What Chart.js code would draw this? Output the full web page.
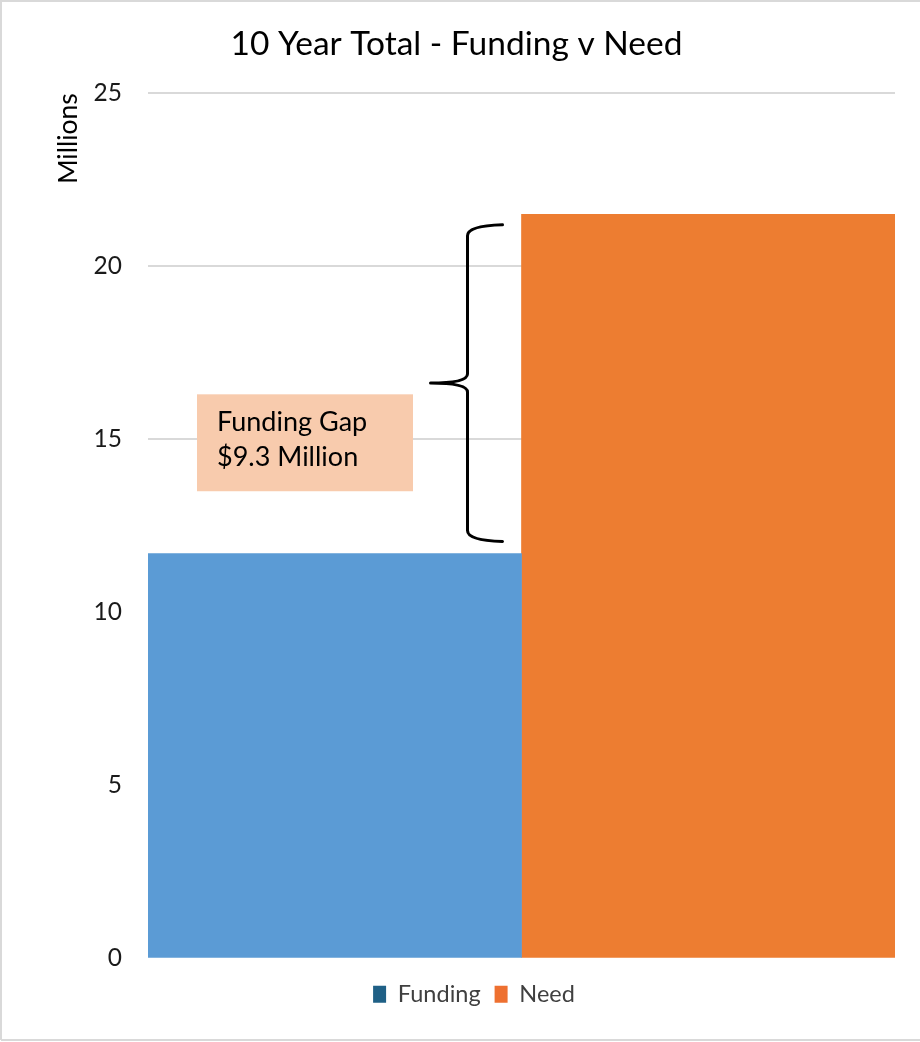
<!DOCTYPE html>
<html>
<head>
<meta charset="utf-8">
<script src="https://cdn.jsdelivr.net/npm/chart.js@4"></script>
<style>
  html, body { margin: 0; padding: 0; background: #ffffff; }
  canvas { display: block; }
</style>
</head>
<body>
<canvas id="c" width="920" height="1042"></canvas>
<script>
// ---- data ----
const categories = [''];
const seriesNames = ['Funding', 'Need'];
const fundingValues = [11.7];
const needValues = [21.5];
const yMin = 0;
const yMax = 25;
const yStep = 5;
const titleText = '10 Year Total - Funding v Need';
const yAxisLabel = 'Millions';
const gapLabel = ['Funding Gap', '$9.3 Million'];
const braceRange = [12.05, 21.2];   // brace ends, in data units
const gapBoxRange = [13.5, 16.3];   // text box vertical extent, in data units

const FONT = 'Lato';

const framePlugin = {
  id: 'frame',
  afterLayout(chart) {
    // small horizontal nudges of the title and legend blocks
    if (chart.titleBlock) { chart.titleBlock.left -= 5; chart.titleBlock.right -= 5; }
    if (chart.legend) { chart.legend.left += 12.5; chart.legend.right += 12.5; }
  },
  beforeDraw(chart) {
    const ctx = chart.ctx;
    ctx.save();
    ctx.fillStyle = '#ffffff';
    ctx.fillRect(0, 0, chart.width, chart.height);
    ctx.strokeStyle = '#d9d9d9';
    ctx.lineWidth = 2;
    ctx.beginPath();
    ctx.moveTo(1, chart.height - 2);
    ctx.lineTo(1, 1);
    ctx.lineTo(chart.width, 1);
    ctx.moveTo(1, chart.height - 2);
    ctx.lineTo(chart.width, chart.height - 2);
    ctx.stroke();
    ctx.restore();
  }
};

const gapPlugin = {
  id: 'gapAnnotation',
  afterDatasetsDraw(chart) {
    const {ctx, chartArea, scales: {x, y}} = chart;
    const mid = x.getPixelForValue(0);
    ctx.save();
    // text box
    const bl = chartArea.left + 49, br = mid - 108.5;
    const bt = y.getPixelForValue(gapBoxRange[1]);
    const bb = y.getPixelForValue(gapBoxRange[0]);
    ctx.fillStyle = '#f8cbad';
    ctx.fillRect(bl, bt, br - bl, bb - bt);
    ctx.fillStyle = '#000000';
    ctx.font = '27px ' + FONT;
    ctx.textAlign = 'left';
    ctx.textBaseline = 'middle';
    ctx.fillText(gapLabel[0], bl + 20, bt + 28);
    ctx.fillText(gapLabel[1], bl + 20, bt + 63);

    // brace
    const top = y.getPixelForValue(braceRange[1]);
    const bot = y.getPixelForValue(braceRange[0]);
    const my = (top + bot) / 2;
    const vx = mid - 54, tipX = mid - 91, armX = mid - 19;
    ctx.strokeStyle = '#000000';
    ctx.lineWidth = 3;
    ctx.lineCap = 'round';
    ctx.lineJoin = 'round';
    ctx.beginPath();
    ctx.moveTo(armX, top);
    ctx.quadraticCurveTo(vx, top + 1, vx, top + 11);
    ctx.lineTo(vx, my - 9);
    ctx.quadraticCurveTo(vx, my, tipX, my);
    ctx.moveTo(tipX, my);
    ctx.quadraticCurveTo(vx, my, vx, my + 9);
    ctx.lineTo(vx, bot - 11);
    ctx.quadraticCurveTo(vx, bot - 1, armX, bot);
    ctx.stroke();
    ctx.restore();
  }
};

const legendColors = ['#1f6086', '#ee7030'];

new Chart(document.getElementById('c'), {
  type: 'bar',
  data: {
    labels: categories,
    datasets: [
      { label: seriesNames[0], data: fundingValues, backgroundColor: '#5b9bd5', barPercentage: 1, categoryPercentage: 1 },
      { label: seriesNames[1], data: needValues, backgroundColor: '#ed7d31', barPercentage: 1, categoryPercentage: 1 }
    ]
  },
  options: {
    responsive: false,
    animation: false,
    devicePixelRatio: 1,
    layout: { padding: { left: 28, right: 25, top: 0, bottom: 26 } },
    plugins: {
      tooltip: { enabled: false },
      title: {
        display: true,
        text: titleText,
        color: '#000000',
        font: { family: FONT, size: 33.5, weight: 'normal' },
        padding: { top: 24, bottom: 29 }
      },
      legend: {
        position: 'bottom',
        labels: {
          boxWidth: 13,
          boxHeight: 17,
          padding: 14,
          color: '#404040',
          font: { family: FONT, size: 23.5 },
          generateLabels(chart) {
            return chart.data.datasets.map((ds, i) => ({
              text: ds.label,
              fillStyle: legendColors[i],
              strokeStyle: legendColors[i],
              lineWidth: 0,
              hidden: false,
              datasetIndex: i,
              fontColor: '#404040'
            }));
          }
        }
      }
    },
    scales: {
      x: {
        display: true,
        grid: { display: false },
        border: { display: false },
        ticks: { display: false },
        afterFit(s) { s.height = 10; }
      },
      y: {
        min: yMin,
        max: yMax,
        ticks: {
          stepSize: yStep,
          padding: 26,
          color: '#1a1a1a',
          font: { family: FONT, size: 24.5 }
        },
        grid: {
          color: (c) => (c.tick && c.tick.value === 0) ? 'rgba(0,0,0,0)' : '#d9d9d9',
          lineWidth: 2,
          drawTicks: false
        },
        border: { display: false },
        title: {
          display: true,
          text: yAxisLabel,
          align: 'end',
          color: '#000000',
          font: { family: FONT, size: 26.5 },
          padding: { top: 24.6, bottom: 0 }
        },
        afterFit(s) { s.width = 120; }
      }
    }
  },
  plugins: [framePlugin, gapPlugin]
});
</script>
</body>
</html>
